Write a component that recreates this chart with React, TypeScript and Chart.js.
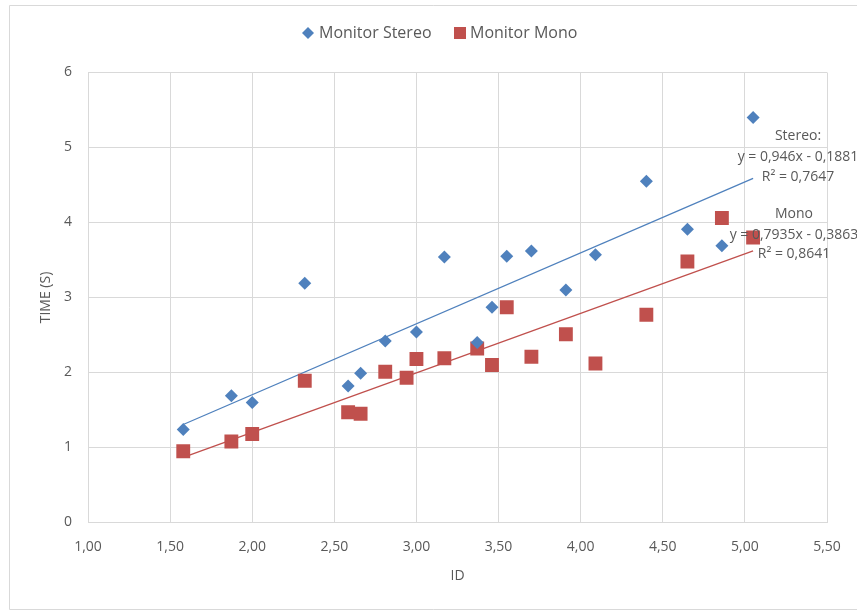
import React, { useEffect, useRef } from "react";
import { Chart, registerables } from "chart.js";

Chart.register(...registerables);

// ---- data ----
const seriesNames = ["Monitor Stereo", "Monitor Mono"];

const stereoX = [1.58, 1.873, 2.0, 2.32, 2.584, 2.66, 2.81, 3.0, 3.17, 3.37, 3.46, 3.55, 3.7, 3.91, 4.09, 4.4, 4.65, 4.86, 5.05];
const stereoY = [1.24, 1.69, 1.6, 3.19, 1.82, 1.99, 2.42, 2.54, 3.54, 2.4, 2.87, 3.55, 3.62, 3.1, 3.57, 4.55, 3.91, 3.69, 5.4];

const monoX = [1.58, 1.873, 2.0, 2.32, 2.584, 2.66, 2.81, 2.94, 3.0, 3.17, 3.37, 3.46, 3.55, 3.7, 3.91, 4.09, 4.4, 4.65, 4.86, 5.05];
const monoY = [0.95, 1.08, 1.18, 1.89, 1.47, 1.45, 2.01, 1.93, 2.18, 2.19, 2.32, 2.1, 2.87, 2.21, 2.51, 2.12, 2.77, 3.48, 4.06, 3.8];

// Trendline equations shown in the chart
const stereoSlope = 0.946;
const stereoIntercept = -0.1881;
const stereoR2 = "0,7647";
const monoSlope = 0.7935;
const monoIntercept = -0.3863;
const monoR2 = "0,8641";

const stereoLabel = ["Stereo:", "y = 0,946x - 0,1881", "R² = " + stereoR2];
const monoLabel = ["Mono", "y = 0,7935x - 0,3863", "R² = " + monoR2];

const xMin = 1;
const xMax = 5.5;
const xStep = 0.5;
const yMin = 0;
const yMax = 6;
const yStep = 1;
const xTitle = "ID";
const yTitle = "TIME (S)";

const BLUE = "#4F81BD";
const RED = "#C0504D";
const TEXT = "#595959";
const GRID = "#D9D9D9";
const FONT = "'Open Sans', 'Noto Sans', sans-serif";

function trend(xs: number[], m: number, b: number) {
  const lo = Math.min(...xs);
  const hi = Math.max(...xs);
  return [
    { x: lo, y: m * lo + b },
    { x: hi, y: m * hi + b },
  ];
}

const decor = {
  id: "decor",
  beforeDraw(chart: any) {
    const ctx = chart.ctx;
    ctx.save();
    ctx.fillStyle = "#ffffff";
    ctx.fillRect(0, 0, chart.width, chart.height);
    ctx.strokeStyle = GRID;
    ctx.lineWidth = 1;
    ctx.beginPath();
    ctx.moveTo(chart.width + 5, 5.5);
    ctx.lineTo(9.5, 5.5);
    ctx.lineTo(9.5, 609.5);
    ctx.lineTo(chart.width + 5, 609.5);
    ctx.stroke();
    ctx.restore();
  },
  afterDraw(chart: any) {
    const ctx = chart.ctx;
    const area = chart.chartArea;
    ctx.save();
    ctx.fillStyle = TEXT;
    ctx.textBaseline = "middle";

    // legend
    ctx.font = `16px ${FONT}`;
    ctx.fillStyle = BLUE;
    ctx.beginPath();
    ctx.moveTo(308, 27);
    ctx.lineTo(314, 33);
    ctx.lineTo(308, 39);
    ctx.lineTo(302, 33);
    ctx.closePath();
    ctx.fill();
    ctx.fillStyle = TEXT;
    ctx.textAlign = "left";
    ctx.fillText(seriesNames[0], 319, 33);
    ctx.fillStyle = RED;
    ctx.fillRect(454, 27, 12, 12);
    ctx.fillStyle = TEXT;
    ctx.fillText(seriesNames[1], 470, 33);

    // axis titles
    ctx.font = `14px ${FONT}`;
    ctx.textAlign = "center";
    ctx.fillText(xTitle, (area.left + area.right) / 2, 576);
    ctx.save();
    ctx.translate(46, (area.top + area.bottom) / 2);
    ctx.rotate(-Math.PI / 2);
    ctx.fillText(yTitle, 0, 0);
    ctx.restore();

    // trendline labels
    ctx.font = `14px ${FONT}`;
    ctx.textAlign = "center";
    const sy = [136, 157, 177];
    stereoLabel.forEach((t, i) => ctx.fillText(t, 798, sy[i]));
    const my = [214, 235, 254];
    monoLabel.forEach((t, i) => ctx.fillText(t, 794, my[i]));
    ctx.restore();
  },
};

export default function App() {
  const ref = useRef<HTMLCanvasElement | null>(null);

  useEffect(() => {
    if (!ref.current) return;
    const chart = new Chart(ref.current, {
      type: "scatter",
      data: {
        datasets: [
          {
            label: seriesNames[0],
            data: stereoX.map((x, i) => ({ x, y: stereoY[i] })),
            pointStyle: "rectRot",
            pointRadius: 6.5,
            pointHoverRadius: 6.5,
            backgroundColor: BLUE,
            borderColor: BLUE,
            borderWidth: 0,
            order: 1,
          },
          {
            label: seriesNames[1],
            data: monoX.map((x, i) => ({ x, y: monoY[i] })),
            pointStyle: "rect",
            pointRadius: 9.8,
            pointHoverRadius: 9.8,
            backgroundColor: RED,
            borderColor: RED,
            borderWidth: 0,
            order: 1,
          },
          {
            type: "line",
            label: "Stereo trend",
            data: trend(stereoX, stereoSlope, stereoIntercept),
            borderColor: BLUE,
            borderWidth: 1.3,
            pointRadius: 0,
            fill: false,
            order: 2,
          } as any,
          {
            type: "line",
            label: "Mono trend",
            data: trend(monoX, monoSlope, monoIntercept),
            borderColor: RED,
            borderWidth: 1.3,
            pointRadius: 0,
            fill: false,
            order: 2,
          } as any,
        ],
      },
      options: {
        animation: false,
        responsive: false,
        maintainAspectRatio: false,
        layout: { padding: { top: 72.5, right: 30, left: 0, bottom: 0 } },
        plugins: {
          legend: { display: false },
          tooltip: { enabled: false },
        },
        scales: {
          x: {
            type: "linear",
            min: xMin,
            max: xMax,
            afterFit: (s: any) => {
              s.height = 88.5;
            },
            grid: { color: GRID, lineWidth: 1, drawTicks: false },
            border: { color: GRID, width: 1 },
            ticks: {
              stepSize: xStep,
              padding: 16,
              color: TEXT,
              font: { family: FONT, size: 14 },
              callback: (v: any) => Number(v).toFixed(2).replace(".", ","),
            },
          },
          y: {
            type: "linear",
            min: yMin,
            max: yMax,
            afterFit: (s: any) => {
              s.width = 88;
            },
            grid: { color: GRID, lineWidth: 1, drawTicks: false },
            border: { color: GRID, width: 1 },
            ticks: {
              stepSize: yStep,
              padding: 16,
              color: TEXT,
              font: { family: FONT, size: 14 },
              callback: (v: any) => String(v),
            },
          },
        },
      },
      plugins: [decor],
    });
    return () => chart.destroy();
  }, []);

  return (
    <div style={{ position: "fixed", left: 0, top: 0, width: 857, height: 611 }}>
      <canvas ref={ref} width={857} height={611} style={{ display: "block", width: 857, height: 611 }} />
    </div>
  );
}
